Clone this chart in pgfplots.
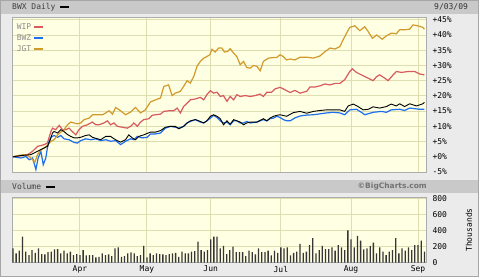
\documentclass[border=0pt]{standalone}
\usepackage{fontspec}
\setmainfont{DejaVu Sans}
\newfontfamily\mono{DejaVu Sans Mono}
\usepackage{pgfplots}
\pgfplotsset{compat=1.18}
\definecolor{outerbg}{HTML}{EBEBEB}
\definecolor{band}{HTML}{C9C9C9}
\definecolor{plotbg}{HTML}{FFFFE3}
\definecolor{gridc}{HTML}{DEDEB0}
\definecolor{wipc}{HTML}{D65A5E}
\definecolor{bwzc}{HTML}{1E6EF0}
\definecolor{jgtc}{HTML}{D29A2C}
\definecolor{barc}{HTML}{363636}
\begin{document}
\begin{tikzpicture}[x=1pt,y=1pt]
\useasboundingbox (0,0) rectangle (479,277);
\fill[outerbg] (0,0) rectangle (479,277);
\fill[band] (0,263) rectangle (479,277);
\fill[band] (0,84) rectangle (479,97);
\draw[gray!70, line width=1pt] (0.5,0.5) rectangle (478.5,276.5);
\node[anchor=west, inner sep=0pt, text=black!75, font=\mono\fontsize{8}{9}\selectfont] at (12,270) {BWX Daily};
\draw[black, line width=2pt] (60,270) -- (69,270);
\node[anchor=west, inner sep=0pt, text=black!80, font=\mono\fontsize{8}{9}\selectfont] at (434,270) {9/03/09};
\node[anchor=west, inner sep=0pt, text=black!75, font=\mono\fontsize{8}{9}\selectfont] at (12,90.5) {Volume};
\draw[black, line width=2pt] (46,90.5) -- (55,90.5);
\node[anchor=east, inner sep=0pt, text=black!55, font=\bfseries\fontsize{7.5}{9}\selectfont] at (427,90.5) {©BigCharts.com};
\node[rotate=90, inner sep=0pt, font=\mono\fontsize{8}{9}\selectfont] at (469,47) {Thousands};

\begin{axis}[
  at={(12pt,105pt)}, anchor=south west,
  width=414pt, height=155pt, scale only axis,
  xmin=-0.3, xmax=129.5, ymin=-5, ymax=45.9,
  axis background/.style={fill=plotbg},
  xtick={21,42,62,84,106,127}, xticklabels={},
  ytick={-5,0,5,10,15,20,25,30,35,40,45},
  yticklabels={-5\%,+0\%,+5\%,+10\%,+15\%,+20\%,+25\%,+30\%,+35\%,+40\%,+45\%},
  yticklabel pos=right,
  yticklabel style={font=\mono\fontsize{8}{9}\selectfont, anchor=west, xshift=3pt},
  major tick length=0pt,
  grid=major, major grid style={draw=gridc, line width=0.9pt},
  axis line style={draw=gray!65},
  legend plot pos=right,
  legend cell align=left,
  legend image code/.code={\draw[#1, line width=2.2pt] (-1pt,0pt) -- (8pt,0pt);},
  legend style={at={(0.004,0.978)}, anchor=north west, draw=none, fill=none,
    font=\mono\fontsize{8}{9}\selectfont, text=black!45, row sep=-0.5pt, inner sep=1pt},
]
\addplot[wipc, line width=1.2pt] coordinates {
(0,0) (4.6,0.7) (6.15,1.8) (7.7,3.4) (9.8,4.0) (10.8,4.5) (11.9,8.3) (12.4,9.4) (13.4,8.9) (14.5,10.3) (15.5,8.9) (16.6,8.9) (17.6,9.4) (18.6,8.3) (19.7,7.2) (20.7,8.9) (21.8,10) (23.3,10.5) (24.9,11.4) (26,10.5) (27,10.5) (28.5,11.1) (29.6,11.8) (30.6,10.5) (31.7,11.1) (32.7,10) (34.3,9.7) (35.8,9.4) (36.9,10) (37.9,11.1) (39,10) (40,11.4) (41,12.2) (42.6,12.5) (43.6,13.6)
(44.7,13.8) (46.25,14) (47.3,14.9) (48.8,15.1) (50.4,15.1) (51.5,16) (52.5,14.4) (53.5,16.5) (54.6,17.6) (55.6,18.7) (57.2,19) (58.75,19.5) (59.8,18.7) (60.8,20.4) (61.9,21.7) (62.9,20.9) (64,21.2) (65,19.8) (66,20.1) (67.1,18.2) (68.1,19.8) (69.2,18.7) (70.2,20.4) (71.25,19.8) (72.8,20.1) (74.4,19.8) (76,20.1) (77.5,20.6) (78.5,19.8) (79.6,21.2) (81.1,21.2) (82.2,22.3) (83.75,22.8)
(85.3,22) (86.9,21.1) (88.4,21.8) (90,20.9) (92.1,21.5) (93.1,22.9) (94.7,22.9) (96.25,23.3) (97.8,23.9) (99.4,23.6) (101,24.1) (102.5,24.1) (104,25.3) (105.6,28) (106.4,28.9) (107.7,27.7) (109.8,26.6) (111.4,25.8) (112.9,25) (114,26.3) (115,26.9) (116.6,25.8) (117.6,25) (119.2,26.9) (120.2,28) (121.8,27.7) (123.9,28) (126,28) (127.5,27.2) (129,26.9)
};
\addlegendentry{WIP}
\addplot[bwzc, line width=1.2pt] coordinates {
(0,0) (2.5,-0.4) (4.1,0.1) (5.1,-1) (6.15,-0.4) (7.2,-4.2) (7.9,-0.4) (8.75,1.8) (9.5,-2.6) (10.3,-0.4) (10.8,2.9) (11.35,5.1) (11.9,6.4) (12.9,7.0) (14,6.4) (15,7.0) (16,5.9) (17.6,5.6) (19.2,4.7) (20.2,4.5) (21.25,5.3) (22.8,5.9) (24.4,5.6) (26,5.9) (27.5,5.3) (29.1,5.6) (30.6,5.1) (32.2,5.3) (33.75,4.0) (35.3,5.1) (36.9,5.9) (37.9,5.6) (39,6.7) (40.5,6.2) (42.1,6.4) (43.1,7.5)
(44.7,7.5) (46.25,7.8) (47.8,9.4) (49.4,10) (50.9,9.7) (52,9.4) (53.5,10) (54.6,11.1) (55.6,11.6) (57.2,12.2) (58.75,11.4) (59.8,11.1) (60.8,11.8) (61.9,12.7) (62.9,13.6) (64,12.9) (65,11.8) (66,11.1) (67.1,11.4) (68.1,10.5) (69.2,11.8) (70.2,11.8) (71.25,11.1) (72.3,11.1) (73.3,11.6) (74.4,11.1) (76.5,11.4) (77.5,11.8) (78.5,12.2) (79.6,11.8) (80.6,12.5) (81.7,12.7) (82.7,13.3) (83.75,12.9) (84.8,12.2) (85.8,11.8) (86.9,11.8)
(88.5,12.8) (90,13.4) (92.1,13.7) (94.2,13.8) (96.25,14.1) (98.3,14.4) (100.4,14.6) (102.5,14.4) (104,13.8) (105.6,15.4) (107.7,15.6) (109.25,14.6) (110.3,13.8) (112.9,14.6) (115.5,14.9) (117.1,14.6) (118.6,15.4) (121.25,15.6) (122.8,15.2) (124.4,16) (127.5,15.6) (129,15.6)
};
\addlegendentry{BWZ}
\addplot[jgtc, line width=1.2pt] coordinates {
(0,0) (1.5,0.4) (3.5,0.7) (5.1,0.1) (6.15,-1) (6.9,-1.7) (7.7,0.7) (8.75,2.3) (9.8,2.9) (10.8,3.8) (11.9,5.1) (12.9,5.6) (14,7.2) (15,8.1) (16,8.9) (17.1,10.5) (18.1,11.4) (19.2,11.1) (20.2,10.8) (21.25,11.1) (22.3,12.2) (23.9,12.7) (24.9,13.8) (26.5,13.8) (28.1,13.8) (29.1,14.4) (30.1,15.1) (31.2,14) (32.2,16.2) (33.75,15.1) (35.3,13.8) (36.9,14.7) (38.4,16.2) (40,14.4) (41.5,15.4) (43.1,18)
(44.7,18.7) (46.25,19.3) (47.3,23.1) (48.8,23.6) (49.9,20.1) (50.9,20.9) (52.5,21.5) (53.5,23.1) (54.6,25) (55.6,24.2) (56.7,26.4) (57.7,29.7) (58.75,31.3) (59.8,32.4) (60.8,32.9) (61.7,33.5) (62.4,35.3) (63.4,34.4) (64.5,35.7) (65.5,35.7) (66.3,34.4) (67.3,34.6) (68.1,35.5) (69.2,34) (70.2,32.9) (71.25,30.2) (72.3,31.3) (73.3,29.3) (74.4,29.1) (75.4,30) (76.5,29.7) (77.5,28.2) (78.5,31.3) (80.1,32.4) (81.7,32.6) (82.7,32.6) (83.75,33.5) (84.8,32.9) (85.8,31.8) (86.9,32.1)
(88.4,31.8) (90,32.7) (92.1,32.7) (94.2,32.4) (96.25,33.1) (97.8,34.5) (99.4,35.7) (101,35.4) (102.5,36.2) (103.5,38.4) (104.6,40.6) (105.6,42.5) (107.2,43) (108.75,41.4) (110.3,42.7) (111.4,41.1) (112.7,38.9) (114,40) (115.8,38.6) (117.1,39.7) (118.6,40.6) (120.2,40.4) (121.25,41.7) (122.8,41.7) (124.4,41.9) (125.4,43.3) (127,43) (128.5,42.5) (129,41.9)
};
\addlegendentry{JGT}
\addplot[black, line width=0.9pt, forget plot] coordinates {
(0,0) (2.5,0.4) (5.6,0.7) (7.7,1.8) (9.8,2.9) (10.8,3.4) (11.7,5.6) (12.4,7.8) (12.9,8.3) (14,7.8) (15,8.9) (16,8.3) (17.1,7.3) (18.1,6.7) (19.2,6.2) (20.2,6.2) (21.25,6.4) (22.8,7.0) (23.9,7.2) (24.9,6.4) (26.5,5.9) (27.5,5.6) (29.1,6.7) (30.6,6.7) (31.7,5.9) (32.7,5.3) (33.75,4.8) (35.3,5.6) (36.3,7.2) (37.4,6.2) (38.4,5.6) (39.5,6.7) (41,7.2) (43.1,8.1)
(44.7,8.1) (46.25,8.6) (47.8,9.7) (49.4,10) (50.9,10) (52,9.2) (53.5,10) (54.6,11.1) (55.6,11.8) (57.2,12.2) (58.75,11.6) (59.8,11.1) (60.8,11.8) (61.9,13.3) (62.9,13.8) (64,13.3) (65,12.5) (66,10.5) (67.1,11.8) (68.1,10.7) (69.2,12.2) (70.2,11.8) (71.25,11.4) (72.3,10.5) (73.3,11.1) (74.4,11.4) (76.5,11.4) (78.5,12.5) (79.6,11.8) (80.6,12.7) (81.7,13.3) (82.7,13.6) (83.75,13.8) (85.8,13.3)
(87.9,14.5) (90,14.9) (92.1,14.3) (94.2,14.9) (96.25,15.2) (98.3,15.4) (100.4,15.4) (102.5,15.4) (104,14.9) (105.1,16.7) (106.7,17.3) (108.2,16.5) (109.8,15.4) (111.4,15.6) (112.9,16.4) (115,16) (117.1,16.5) (118.6,17.3) (120.2,16.7) (121.25,17.4) (122.8,16.5) (124.4,17.4) (126.5,16.7) (128.5,17.4) (129,17.9)
};
\end{axis}

\begin{axis}[
  at={(12pt,14.5pt)}, anchor=south west,
  width=414pt, height=65.5pt, scale only axis,
  xmin=-0.3, xmax=129.5, ymin=0, ymax=820,
  axis background/.style={fill=plotbg},
  xtick={21,42,62,84,106,127}, xticklabels={Apr,May,Jun,Jul,Aug,Sep},
  xticklabel style={font=\mono\fontsize{8}{9}\selectfont, yshift=0pt},
  ytick={0,200,400,600,800}, yticklabels={0,200,400,600,800},
  yticklabel pos=right,
  yticklabel style={font=\mono\fontsize{8}{9}\selectfont, anchor=west, xshift=3pt},
  major tick length=0pt,
  grid=major, major grid style={draw=gridc, line width=0.9pt},
  axis line style={draw=gray!65},
]
\addplot[ybar, bar width=1.3pt, fill=barc, draw=none] coordinates {
(0,177) (1,114) (2,148) (3,325) (4,135) (5,93) (6,156) (7,122) (8,177) (9,105) (10,101) (11,131) (12,135) (13,165) (14,169) (15,114) (16,148) (17,114) (18,135) (19,93) (20,105) (21,93) (22,156) (23,89) (24,93) (25,93) (26,63) (27,72) (28,114) (29,93) (30,101) (31,80) (32,177) (33,190) (34,72) (35,80) (36,114) (37,127) (38,114) (39,80) (40,93) (41,207) (42,63) (43,114) (44,93) (45,114) (46,105) (47,101) (48,93) (49,105) (50,114) (51,122) (52,72) (53,135) (54,114) (55,114) (56,135) (57,143) (58,262) (59,156) (60,135) (61,156) (62,291) (63,325) (64,325)
(65,177) (66,207) (67,105) (68,156) (69,198) (70,131) (71,131) (72,131) (73,80) (74,148) (75,131) (76,101) (77,177) (78,131) (79,131) (80,148) (81,89) (82,148) (83,122) (84,190) (85,177) (86,190) (87,89) (88,122) (89,135) (90,232) (91,122) (92,135) (93,219) (94,304) (95,114) (96,156) (97,207) (98,169) (99,169) (100,190) (101,148) (102,219) (103,190) (104,156) (105,401) (106,291) (107,190) (108,333) (109,274) (110,165) (111,177) (112,207) (113,249) (114,114) (115,190) (116,135) (117,93) (118,135) (119,156) (120,304) (121,114) (122,177) (123,148) (124,190) (125,156) (126,219) (127,219) (128,274) (129,135)
};
\end{axis}
\end{tikzpicture}
\end{document}
